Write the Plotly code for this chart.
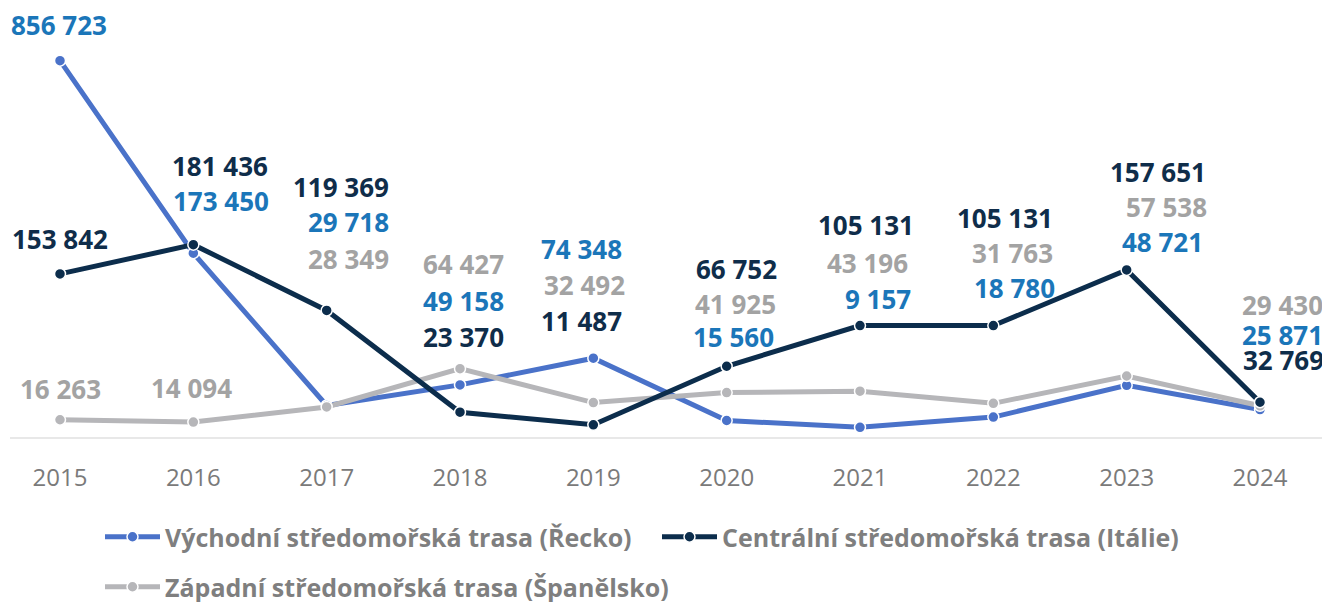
import plotly.graph_objects as go

# ---------------- data ----------------
years = [2015, 2016, 2017, 2018, 2019, 2020, 2021, 2022, 2023, 2024]
greece = [856723, 173450, 29718, 49158, 74348, 15560, 9157, 18780, 48721, 25871]
italy = [153842, 181436, 119369, 23370, 11487, 66752, 105131, 105131, 157651, 32769]
spain = [16263, 14094, 28349, 64427, 32492, 41925, 43196, 31763, 57538, 29430]

# The source chart breaks its value axis for the 2015 Greek peak:
# that point is drawn at roughly 355 000 while labelled with the true value.
greece_drawn = [355000] + greece[1:]

names = {
    "gr": "Východní středomořská trasa (Řecko)",
    "it": "Centrální středomořská trasa (Itálie)",
    "es": "Západní středomořská trasa (Španělsko)",
}

# ---------------- style ----------------
PAGE_W, PAGE_H = 1330, 602
OFF = 8                      # default body margin of the html page
W, H = PAGE_W - OFF, PAGE_H - OFF
# plot area in page pixels: x 10..1325, y 10..437
P_LEFT, P_RIGHT, P_TOP, P_BOTTOM = 10, 1325, 10, 437
ML, MR = P_LEFT - OFF, PAGE_W - P_RIGHT
MT, MB = P_TOP - OFF, PAGE_H - P_BOTTOM
X_RANGE = [2014.625, 2024.4875]
Y_RANGE = [0, 402800]
FONT = "Open Sans"

line_col = {"gr": "#4a72c9", "it": "#0c2d4c", "es": "#b6b6b9"}
lab_col = {"gr": "#1b76b9", "it": "#0f2d4a", "es": "#a3a3a3"}

# label placement (page pixel centres) per year, hand placed as in the source
LABEL_POS = {
    2015: {"gr": (59, 25), "it": (60, 239), "es": (61, 389)},
    2016: {"it": (220, 166), "gr": (221, 201), "es": (192, 388)},
    2017: {"it": (341, 187), "gr": (348, 222), "es": (348, 259)},
    2018: {"es": (464, 264), "gr": (464, 301), "it": (464, 337)},
    2019: {"gr": (582, 249), "es": (585, 285), "it": (582, 321)},
    2020: {"it": (736, 269), "es": (735, 304), "gr": (733, 337)},
    2021: {"it": (866, 225), "es": (868, 263), "gr": (878, 299)},
    2022: {"it": (1005, 218), "es": (1013, 253), "gr": (1015, 288)},
    2023: {"it": (1158, 172), "es": (1166, 207), "gr": (1162, 242)},
    2024: {"es": (1283, 305), "gr": (1283, 335), "it": (1284, 360)},
}
LEGEND_X = 100               # page px
LEGEND_ROWS = (537, 587)     # page px, row centres
LEGEND_ENTRY_W = 487

values = {"gr": greece, "it": italy, "es": spain}


def fmt(v):
    return f"{v:,}".replace(",", " ")


def px_x(year):
    return P_LEFT + (year - X_RANGE[0]) / (X_RANGE[1] - X_RANGE[0]) * (P_RIGHT - P_LEFT)


def paper_y(py):
    return (P_BOTTOM - py) / (P_BOTTOM - P_TOP)


fig = go.Figure()

series = [("gr", greece_drawn, "legend"), ("es", spain, "legend2"), ("it", italy, "legend")]
for key, ys, leg in series:
    fig.add_trace(go.Scatter(
        x=years, y=ys, name=names[key], mode="lines+markers",
        line=dict(color=line_col[key], width=5),
        marker=dict(color=line_col[key], size=11, line=dict(color="white", width=1.5)),
        cliponaxis=False, legend=leg, hoverinfo="skip",
    ))

annotations = []
for i, yr in enumerate(years):
    for key, (cx, cy) in LABEL_POS[yr].items():
        annotations.append(dict(
            x=yr, xref="x", xshift=cx - px_x(yr),
            y=paper_y(cy), yref="paper", yanchor="middle", xanchor="center",
            text=fmt(values[key][i]), showarrow=False,
            font=dict(family=FONT, size=26, color=lab_col[key], weight="bold"),
        ))

legend_common = dict(
    orientation="h", x=(LEGEND_X - P_LEFT) / (P_RIGHT - P_LEFT), xanchor="left",
    yref="container", yanchor="middle",
    font=dict(family=FONT, size=25, color="#7f7f7f", weight="bold"),
    itemwidth=55, bgcolor="rgba(0,0,0,0)",
)

fig.update_layout(
    width=W, height=H,
    margin=dict(l=ML, r=MR, t=MT, b=MB),
    paper_bgcolor="white", plot_bgcolor="white",
    font=dict(family=FONT),
    annotations=annotations,
    xaxis=dict(
        range=X_RANGE, tickvals=years, ticktext=[str(y) for y in years],
        showgrid=False, zeroline=False, showline=True, linecolor="#e8e8e8", linewidth=2,
        ticks="", ticklabelstandoff=18,
        tickfont=dict(family=FONT, size=24, color="#7a7a7a"),
        fixedrange=True,
    ),
    yaxis=dict(range=Y_RANGE, visible=False, fixedrange=True),
    legend=dict(legend_common, y=1 - (LEGEND_ROWS[0] - OFF) / H,
                entrywidth=LEGEND_ENTRY_W, entrywidthmode="pixels"),
    legend2=dict(legend_common, y=1 - (LEGEND_ROWS[1] - OFF) / H),
    showlegend=True,
)

fig.write_html("out.html")
